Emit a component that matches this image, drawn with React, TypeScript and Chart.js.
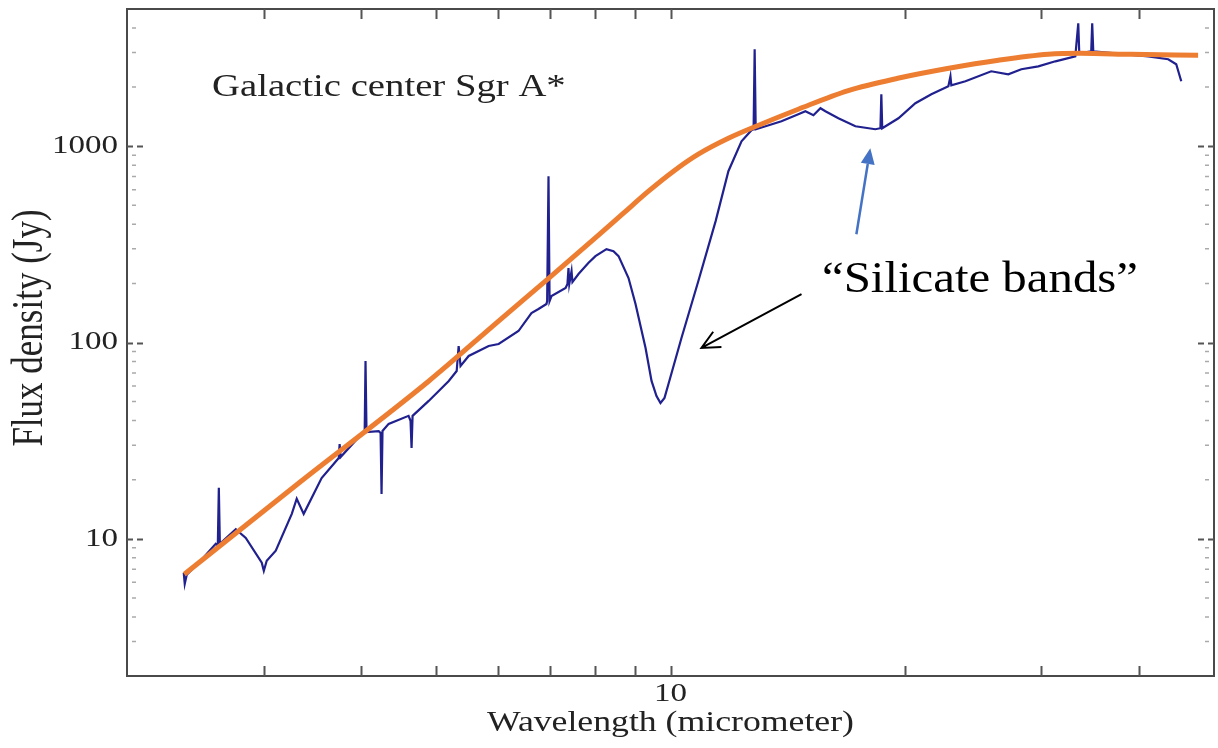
import React, { useEffect, useRef } from "react";
import { Chart, registerables } from "chart.js";

Chart.register(...registerables);

// Observed spectrum (wavelength in micrometer, flux density in Jy)
const spectrumWavelength = [
  2.366, 2.373, 2.387, 2.474, 2.601, 2.617, 2.625, 2.633, 2.76, 2.843,
  2.981, 2.999, 3.025, 3.107, 3.258, 3.306, 3.375, 3.559, 3.744, 3.754,
  3.765, 4.007, 4.043, 4.053, 4.065, 4.214, 4.238, 4.25, 4.262, 4.34,
  4.604, 4.631, 4.645, 4.659, 4.887, 5.186, 5.309, 5.34, 5.37, 5.501,
  5.836, 6.011, 6.375, 6.625, 6.764, 6.926, 6.94, 6.968, 6.99, 7.03,
  7.33, 7.37, 7.393, 7.41, 7.46, 7.48, 7.615, 7.84, 8.007, 8.273,
  8.446, 8.574, 8.831, 9.016, 9.288, 9.454, 9.594, 9.708, 9.824, 9.94,
  10.33, 10.86, 11.43, 11.87, 12.34, 12.71, 12.79, 12.83, 12.87, 13.25,
  13.89, 14.6, 14.91, 15.27, 15.59, 15.82, 16.44, 17.29, 18.34, 18.62,
  18.67, 18.72, 19.64, 20.65, 21.65, 22.77, 22.91, 22.97, 23.95, 25.85,
  27.19, 28.26, 29.72, 31.26, 33.16, 33.45, 33.55, 34.76, 34.86, 34.97,
  37.33, 41.16, 43.66, 44.71, 45.38,
];
const spectrumFlux = [
  6.71, 5.9, 6.56, 7.55, 9.43, 9.21, 18.2, 9.43, 11.2, 10.1,
  7.55, 6.87, 7.73, 8.69, 13.4, 16.0, 13.4, 20.4, 25.8, 30.4,
  26.1, 34.2, 35.0, 80.5, 35.0, 35.4, 34.6, 16.9, 35.4, 38.5,
  42.3, 39.9, 29.0, 42.3, 50.4, 63.7, 71.6, 96.0, 75.9, 85.4,
  96.0, 98.3, 114.4, 141.3, 148.1, 157.0, 162.6, 703.8, 162.6, 172.5,
  189.4, 198.5, 239.4, 198.5, 231, 203.2, 223.2, 254, 275.5, 299.1,
  292, 275.5, 212.9, 157.0, 93.8, 63.7, 53.4, 49.2, 52.2, 61.5,
  105.4, 205.6, 415.2, 746, 1060, 1206, 1220, 3117, 1220, 1264,
  1340, 1455, 1507, 1438, 1561, 1507, 1388, 1264, 1220, 1235,
  1839, 1235, 1388, 1655, 1839, 2020, 2271, 2043, 2142, 2408,
  2325, 2466, 2553, 2707, 2871, 4227, 2973, 3045, 4227, 3045,
  2973, 2871, 2772, 2615, 2142,
];

// Hand-drawn continuum (orange)
const continuumWavelength = [
  2.37, 3.33, 4.89, 6.01, 6.97, 8.08, 8.7, 9.37, 10.09, 10.86,
  11.87, 12.98, 14.6, 16.93, 19.6, 22.8, 26.4, 30.6, 33.7, 39.1,
  47.7,
];
const continuumFlux = [
  6.6, 19.3, 63.7, 128.6, 212, 352, 456, 590, 746, 911,
  1098, 1279, 1543, 1920, 2218, 2494, 2740, 2938, 2972, 2938,
  2904,
];

// Axes
const xMin = 2;
const xMax = 50;
const yMin = 2;
const yMax = 5000;
const xTickValues = [3, 4, 5, 6, 7, 8, 9, 10, 20, 30, 40];
const xLabelValues = [10];
const xLabelTexts = ["10"];
const yLabelValues = [10, 100, 1000];
const yLabelTexts = ["10", "100", "1000"];

// Texts
const titleText = "Galactic center Sgr A*";
const xTitle = "Wavelength (micrometer)";
const yTitle = "Flux density (Jy)";
const calloutText = "\u201CSilicate bands\u201D";

// Arrow anchors in data units [wavelength, flux]
const blackArrowFrom = [14.74, 176.5];
const blackArrowTo = [10.96, 93.8];
const blueArrowFrom = [17.34, 356];
const blueArrowTo = [18.07, 977];

const SERIF = "'Liberation Serif', 'Times New Roman', serif";

function stretchedText(
  ctx: CanvasRenderingContext2D,
  text: string,
  x: number,
  y: number,
  size: number,
  sx: number,
  align: CanvasTextAlign,
  color: string
) {
  ctx.save();
  ctx.translate(x, y);
  ctx.scale(sx, 1);
  ctx.font = `${size}px ${SERIF}`;
  ctx.fillStyle = color;
  ctx.textAlign = align;
  ctx.textBaseline = "middle";
  ctx.fillText(text, 0, 0);
  ctx.restore();
}

const overlayPlugin = {
  id: "overlay",
  afterDatasetsDraw(chart: any) {
    const ctx: CanvasRenderingContext2D = chart.ctx;
    const xs = chart.scales.x;
    const ys = chart.scales.y;
    const px = (v: number) => xs.getPixelForValue(v);
    const py = (v: number) => ys.getPixelForValue(v);

    // black arrow
    {
      const x1 = px(blackArrowFrom[0]);
      const y1 = py(blackArrowFrom[1]);
      const x2 = px(blackArrowTo[0]);
      const y2 = py(blackArrowTo[1]);
      const ang = Math.atan2(y2 - y1, x2 - x1);
      ctx.save();
      ctx.strokeStyle = "#000";
      ctx.lineWidth = 2;
      ctx.beginPath();
      ctx.moveTo(x1, y1);
      ctx.lineTo(x2, y2);
      const L = 20;
      const a = 0.45;
      ctx.moveTo(x2 - L * Math.cos(ang - a), y2 - L * Math.sin(ang - a));
      ctx.lineTo(x2, y2);
      ctx.lineTo(x2 - L * Math.cos(ang + a), y2 - L * Math.sin(ang + a));
      ctx.stroke();
      ctx.restore();
    }
    // blue arrow
    {
      const x1 = px(blueArrowFrom[0]);
      const y1 = py(blueArrowFrom[1]);
      const x2 = px(blueArrowTo[0]);
      const y2 = py(blueArrowTo[1]);
      const ang = Math.atan2(y2 - y1, x2 - x1);
      const L = 16;
      const W = 7;
      const bx = x2 - L * Math.cos(ang);
      const by = y2 - L * Math.sin(ang);
      ctx.save();
      ctx.strokeStyle = "#4472C4";
      ctx.fillStyle = "#4472C4";
      ctx.lineWidth = 2.5;
      ctx.beginPath();
      ctx.moveTo(x1, y1);
      ctx.lineTo(bx, by);
      ctx.stroke();
      ctx.beginPath();
      ctx.moveTo(x2, y2);
      ctx.lineTo(bx + W * Math.sin(ang), by - W * Math.cos(ang));
      ctx.lineTo(bx - W * Math.sin(ang), by + W * Math.cos(ang));
      ctx.closePath();
      ctx.fill();
      ctx.restore();
    }
  },
  afterDraw(chart: any) {
    const ctx: CanvasRenderingContext2D = chart.ctx;
    const { left, right, top, bottom } = chart.chartArea;
    const xs = chart.scales.x;
    const ys = chart.scales.y;

    ctx.save();
    // frame
    ctx.strokeStyle = "#4a4a4a";
    ctx.lineWidth = 2;
    ctx.strokeRect(left, top, right - left, bottom - top);

    // x ticks (inward, bottom and top)
    ctx.strokeStyle = "#555";
    ctx.lineWidth = 2;
    xTickValues.forEach((v) => {
      const x = Math.round(xs.getPixelForValue(v)) + 0.5;
      ctx.beginPath();
      ctx.moveTo(x, bottom);
      ctx.lineTo(x, bottom - 10);
      ctx.moveTo(x, top);
      ctx.lineTo(x, top + 10);
      ctx.stroke();
    });

    // y major ticks (dashed, inward)
    ctx.setLineDash([6, 4]);
    yLabelValues.forEach((v) => {
      const y = Math.round(ys.getPixelForValue(v)) + 0.5;
      ctx.beginPath();
      ctx.moveTo(left, y);
      ctx.lineTo(left + 20, y);
      ctx.moveTo(right, y);
      ctx.lineTo(right - 20, y);
      ctx.stroke();
    });
    ctx.setLineDash([]);

    // y minor ticks (small grey marks)
    ctx.strokeStyle = "#aaa";
    ctx.lineWidth = 1.5;
    for (let d = 0; d <= 3; d++) {
      for (let k = 2; k <= 9; k++) {
        const v = k * Math.pow(10, d);
        if (v <= yMin || v >= yMax) continue;
        const y = ys.getPixelForValue(v);
        ctx.beginPath();
        ctx.moveTo(left + 5, y);
        ctx.lineTo(left + 9, y);
        ctx.moveTo(right - 9, y);
        ctx.lineTo(right - 5, y);
        ctx.stroke();
      }
    }
    ctx.restore();

    // tick labels
    yLabelValues.forEach((v, i) => {
      stretchedText(ctx, yLabelTexts[i], left - 9, ys.getPixelForValue(v), 26, 1.27, "right", "#222");
    });
    xLabelValues.forEach((v, i) => {
      stretchedText(ctx, xLabelTexts[i], xs.getPixelForValue(v), bottom + 18, 26, 1.27, "center", "#222");
    });

    // axis titles
    stretchedText(ctx, xTitle, xs.getPixelForValue(10), bottom + 47, 30, 1.19, "center", "#222");
    ctx.save();
    ctx.translate(31, 328);
    ctx.scale(1.25, 1);
    ctx.rotate(-Math.PI / 2);
    ctx.font = `35px ${SERIF}`;
    ctx.fillStyle = "#222";
    ctx.textAlign = "center";
    ctx.textBaseline = "middle";
    ctx.fillText(yTitle, 0, 0);
    ctx.restore();

    // chart title inside the plot
    stretchedText(ctx, titleText, 212, 88, 32, 1.21, "left", "#222");

    // callout
    stretchedText(ctx, calloutText, 822, 280, 44, 1.11, "left", "#000");
  },
};

export default function App() {
  const canvasRef = useRef<HTMLCanvasElement | null>(null);

  useEffect(() => {
    if (!canvasRef.current) return;
    const spectrum = spectrumWavelength.map((x, i) => ({ x, y: spectrumFlux[i] }));
    const continuum = continuumWavelength.map((x, i) => ({ x, y: continuumFlux[i] }));
    const chart = new Chart(canvasRef.current, {
      type: "line",
      data: {
        datasets: [
          {
            label: "Continuum",
            data: continuum,
            borderColor: "#ED7D31",
            borderWidth: 5,
            pointRadius: 0,
            cubicInterpolationMode: "monotone",
            fill: false,
          },
          {
            label: "Spectrum",
            data: spectrum,
            borderColor: "#20208f",
            borderWidth: 2.2,
            pointRadius: 0,
            tension: 0,
            fill: false,
          },
        ],
      },
      options: {
        responsive: false,
        animation: false,
        devicePixelRatio: 1,
        layout: { padding: { left: 127, right: 4, top: 9, bottom: 72 } },
        plugins: {
          legend: { display: false },
          tooltip: { enabled: false },
          title: { display: false },
        },
        scales: {
          x: { type: "logarithmic", min: xMin, max: xMax, display: false },
          y: { type: "logarithmic", min: yMin, max: yMax, display: false },
        },
      },
      plugins: [overlayPlugin],
    });
    return () => chart.destroy();
  }, []);

  return (
    <div style={{ position: "absolute", left: 0, top: 0, width: 1218, height: 748, background: "#fff" }}>
      <canvas ref={canvasRef} width={1218} height={748} style={{ display: "block" }} />
    </div>
  );
}
